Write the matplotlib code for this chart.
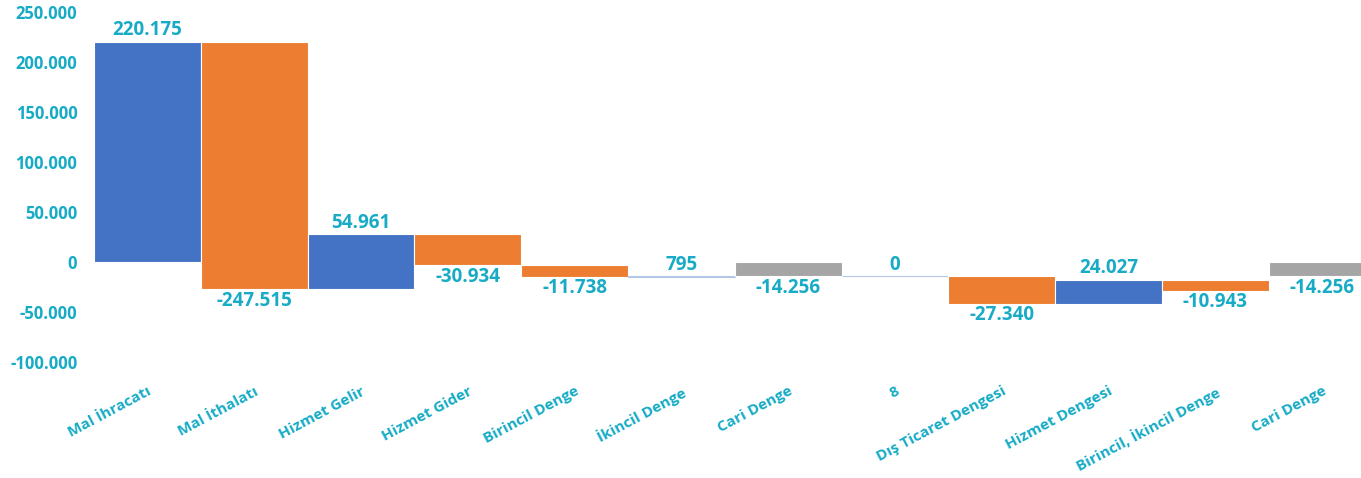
import matplotlib.pyplot as plt
from matplotlib.ticker import FuncFormatter

plt.rcParams["font.family"] = ["Open Sans", "DejaVu Sans"]

categories = ["Mal İhracatı", "Mal İthalatı", "Hizmet Gelir", "Hizmet Gider",
              "Birincil Denge", "İkincil Denge", "Cari Denge", "8",
              "Dış Ticaret Dengesi", "Hizmet Dengesi", "Birincil, İkincil Denge",
              "Cari Denge"]
values = [220175, -247515, 54961, -30934, -11738, 795, -14256,
          0, -27340, 24027, -10943, -14256]
is_total = [False, False, False, False, False, False, True,
            False, False, False, False, True]

BLUE = "#4472C4"
ORANGE = "#ED7D31"
GRAY = "#A5A5A5"
TEXT = "#17ABC6"

# waterfall bottoms (running sum carries on after a total bar)
bottoms = []
running = 0
for v, tot in zip(values, is_total):
    if tot:
        bottoms.append(0)
        running = v
    else:
        bottoms.append(running)
        running += v

colors = []
edges = []
for v, tot in zip(values, is_total):
    if tot:
        colors.append(GRAY)
    elif v >= 0:
        colors.append(BLUE)
    else:
        colors.append(ORANGE)
    edges.append("#B4C7E7" if abs(v) < 1000 else "white")

fig = plt.figure(figsize=(13.61, 4.78), dpi=100)
ax = fig.add_axes([94 / 1361, 1 - 362 / 478, 1281.6 / 1361, 350 / 478])

x = range(len(categories))
ax.bar(x, values, bottom=bottoms, width=1.0, color=colors,
       edgecolor=edges, linewidth=0.8)

# data labels
for i, (v, b) in enumerate(zip(values, bottoms)):
    end = b + v
    label = f"{v:,}".replace(",", ".")
    if v >= 0:
        ax.annotate(label, (i, end), xytext=(0, 1), textcoords="offset points",
                    ha="center", va="bottom", color=TEXT, fontsize=13.5,
                    fontweight="bold")
    else:
        ax.annotate(label, (i, end), xytext=(0, -1), textcoords="offset points",
                    ha="center", va="top", color=TEXT, fontsize=13.5,
                    fontweight="bold")

ax.set_xlim(-0.5, len(categories) - 0.5)
ax.set_ylim(-100000, 250000)
ax.set_yticks(range(-100000, 250001, 50000))
ax.yaxis.set_major_formatter(FuncFormatter(lambda v, p: f"{int(v):,}".replace(",", ".")))
ax.set_xticks(list(x))
ax.set_xticklabels(categories, rotation=28, ha="right", va="top",
                   rotation_mode="anchor")

ax.tick_params(axis="y", length=0, colors=TEXT, labelsize=12, pad=12)
ax.tick_params(axis="x", length=0, colors=TEXT, labelsize=11, pad=16)
for lbl in ax.get_xticklabels() + ax.get_yticklabels():
    lbl.set_fontweight("bold")
for s in ax.spines.values():
    s.set_visible(False)

fig.savefig("out.png", dpi=100)
